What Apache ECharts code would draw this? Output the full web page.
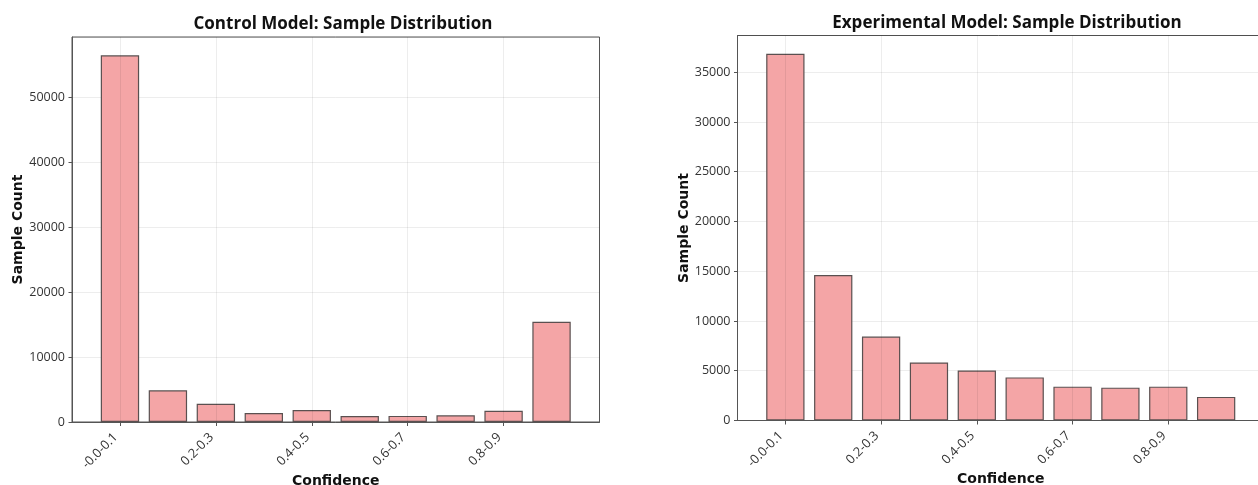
<!DOCTYPE html>
<html>
<head>
<meta charset="utf-8">
<script src="https://cdn.jsdelivr.net/npm/echarts@6/dist/echarts.min.js"></script>
<style>html,body{margin:0;padding:0;background:#fff;}#c{width:1258px;height:485px;}</style>
</head>
<body>
<div id="c"></div>
<script>
const categories = ['-0.0-0.1','0.1-0.2','0.2-0.3','0.3-0.4','0.4-0.5','0.5-0.6','0.6-0.7','0.7-0.8','0.8-0.9','0.9-1.0'];
const controlCounts = [56450, 4870, 2820, 1390, 1850, 930, 940, 1030, 1740, 15440];
const experimentalCounts = [36850, 14630, 8430, 5830, 5030, 4330, 3400, 3300, 3400, 2370];
const titles = ['Control Model: Sample Distribution', 'Experimental Model: Sample Distribution'];
const yIntervals = [10000, 5000];

// padded category slots so the axis runs one slot beyond the first and last bar
const axisCats = [''].concat(categories, ['']);
const pad = arr => [null].concat(arr, [null]);
const shown = i => i >= 1 && i <= categories.length && (i - 1) % 2 === 0;

const chart = echarts.init(document.getElementById('c'));
const grids = [
  {left: 72, right: 658.5, top: 37, bottom: 63},
  {left: 737.5, right: -6, top: 35.5, bottom: 64.5}
];
function xAxis(g) {
  return {
    type: 'category', gridIndex: g, data: axisCats, boundaryGap: false, z: 3,
    axisLine: {show: true, lineStyle: {color: '#555', width: 1}},
    axisTick: {show: true, length: 4, interval: (i) => shown(i), lineStyle: {color: '#555'}},
    axisLabel: {interval: (i) => shown(i), rotate: 45, margin: 9, padding: [0, 6, 3, 0],
                color: '#333', fontSize: 12.8, fontFamily: 'Open Sans'},
    splitLine: {show: true, interval: (i) => shown(i), lineStyle: {color: 'rgba(0,0,0,0.07)', width: 1}},
    name: 'Confidence', nameLocation: 'middle', nameGap: 52, nameMoveOverlap: false,
    nameTextStyle: {fontFamily: 'DejaVu Sans', fontWeight: 'bold', fontSize: 14, color: '#111'}
  };
}
function yAxis(g) {
  return {
    type: 'value', gridIndex: g, min: 0, max: (v) => v.max * 1.05, interval: yIntervals[g],
    axisLine: {show: true, lineStyle: {color: '#555', width: 1}},
    axisTick: {show: true, length: 3.5, lineStyle: {color: '#555'}},
    axisLabel: {showMaxLabel: false, margin: 7, color: '#333', fontSize: 12.5, fontFamily: 'Open Sans',
                formatter: (v) => String(v)},
    splitLine: {show: true, lineStyle: {color: 'rgba(0,0,0,0.07)', width: 1}},
    name: 'Sample Count', nameLocation: 'middle', nameGap: g === 0 ? 47 : 46, nameMoveOverlap: false,
    nameTextStyle: {fontFamily: 'DejaVu Sans', fontWeight: 'bold', fontSize: 14, color: '#111'}
  };
}
function series(g, vals) {
  return {
    type: 'bar', xAxisIndex: g, yAxisIndex: g, data: pad(vals), barWidth: '80%',
    itemStyle: {color: '#F4A5A6', borderColor: '#5a5050', borderWidth: 1.2},
    animation: false
  };
}
chart.setOption({
  animation: false,
  title: [
    {text: titles[0], left: 338, top: 11, textAlign: 'center',
     textStyle: {fontFamily: 'Open Sans', fontWeight: 'bold', fontSize: 17, color: '#111'}},
    {text: titles[1], left: 1002, top: 10, textAlign: 'center',
     textStyle: {fontFamily: 'Open Sans', fontWeight: 'bold', fontSize: 17, color: '#111'}}
  ],
  grid: grids.map(g => Object.assign({show: true, borderColor: '#555', borderWidth: 1, backgroundColor: 'transparent',
                                      containLabel: false, outerBoundsMode: 'none'}, g)),
  xAxis: [xAxis(0), xAxis(1)],
  yAxis: [yAxis(0), yAxis(1)],
  series: [series(0, controlCounts), series(1, experimentalCounts)]
});
</script>
</body>
</html>
